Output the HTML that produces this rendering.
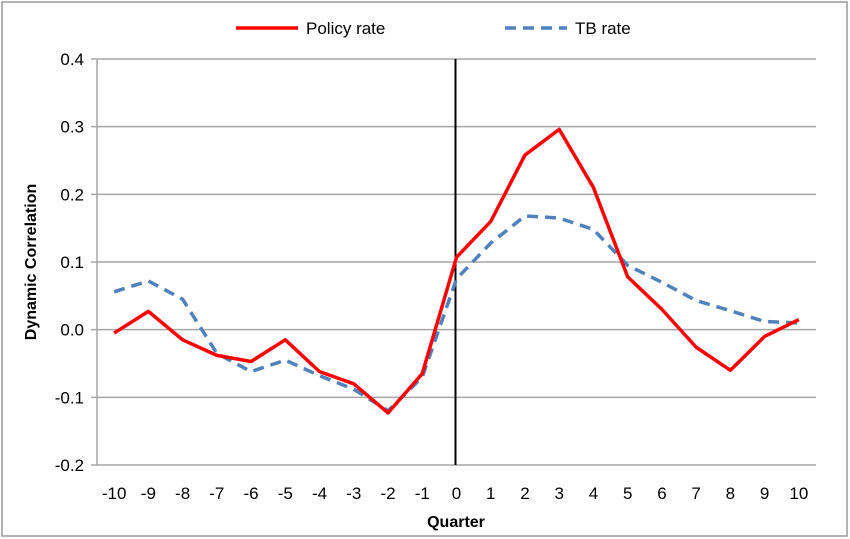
<!DOCTYPE html>
<html><head><meta charset="utf-8"><style>
body{margin:0;background:#fff}
svg{display:block;font-family:"Liberation Sans",sans-serif}
</style></head><body>
<svg id="c" width="850" height="539">
<rect x="2" y="2" width="845" height="534" fill="#fff" stroke="#9a9a9a" stroke-width="1.5"/>
<g id="grid"></g><g id="ticks"></g><g id="series"></g>
<g>
<line x1="236" y1="28" x2="298" y2="28" stroke="#ff0000" stroke-width="3.5"/>
<text x="306" y="34" font-size="17" fill="#000">Policy rate</text>
<line x1="505" y1="28" x2="567" y2="28" stroke="#4f81bd" stroke-width="3.5" stroke-dasharray="11,7"/>
<text x="575" y="34" font-size="17" fill="#000">TB rate</text>
</g>
<text x="456" y="527" font-size="16" font-weight="bold" text-anchor="middle">Quarter</text>
<text transform="translate(36,262) rotate(-90)" font-size="16" font-weight="bold" text-anchor="middle">Dynamic Correlation</text>
</svg>
<script>
const categories=[-10,-9,-8,-7,-6,-5,-4,-3,-2,-1,0,1,2,3,4,5,6,7,8,9,10];
const policyRate=[-0.005,0.027,-0.015,-0.038,-0.047,-0.015,-0.062,-0.080,-0.123,-0.065,0.107,0.160,0.258,0.296,0.210,0.078,0.030,-0.026,-0.060,-0.010,0.015];
const tbRate=[0.056,0.072,0.045,-0.035,-0.062,-0.045,-0.068,-0.088,-0.120,-0.070,0.075,0.128,0.168,0.165,0.148,0.095,0.070,0.043,0.028,0.012,0.010];
const yTicks=[-0.2,-0.1,0.0,0.1,0.2,0.3,0.4];
const yTickLabels=["-0.2","-0.1","0.0","0.1","0.2","0.3","0.4"];
const L=97,R=816,T=59,B=465,yMin=-0.2,yMax=0.4;
const bw=(R-L)/categories.length;
const x=i=>L+bw*(i+0.5);
const y=v=>B-(v-yMin)/(yMax-yMin)*(B-T);
const NS="http://www.w3.org/2000/svg";
function mk(tag,parent,attrs){const e=document.createElementNS(NS,tag);for(const k in attrs)e.setAttribute(k,attrs[k]);document.getElementById(parent).appendChild(e);return e;}
yTicks.forEach((t,i)=>{
  const g=mk('line','grid',{x1:L-6,x2:R,y1:y(t),y2:y(t),stroke:'#a6a6a6','stroke-width':1.5});
  
  
  const tx=mk('text','ticks',{x:L-13,y:y(t)+6,'font-size':17,'text-anchor':'end'});
  tx.textContent=yTickLabels[i];
  
  
});
const ya=mk('line','grid',{x1:L,x2:L,y1:T,y2:B,stroke:'#a6a6a6','stroke-width':1.5});


categories.forEach((c,i)=>{
  const tx=mk('text','ticks',{x:x(i),y:499,'font-size':17,'text-anchor':'middle'});
  tx.textContent=c;
  
  
});
const zi=categories.indexOf(0);
const vl=mk('line','grid',{x1:x(zi)-1,x2:x(zi)-1,y1:T,y2:B,stroke:'#000','stroke-width':2});


const tb=mk('polyline','series',{points:tbRate.map((v,i)=>x(i)+','+y(v)).join(' '),fill:'none',stroke:'#4f81bd','stroke-width':3.5,'stroke-dasharray':'11,7'});


const pr=mk('polyline','series',{points:policyRate.map((v,i)=>x(i)+','+y(v)).join(' '),fill:'none',stroke:'#ff0000','stroke-width':3.5,'stroke-linejoin':'round'});


</script>
</body></html>
